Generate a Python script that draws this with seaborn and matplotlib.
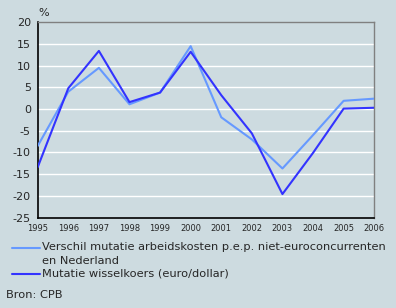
import matplotlib
matplotlib.use("Agg")
import matplotlib.pyplot as plt
import seaborn as sns
import pandas as pd
from matplotlib.lines import Line2D

years = [1995, 1996, 1997, 1998, 1999, 2000, 2001, 2002, 2003, 2004, 2005, 2006]
verschil = [-8.5, 4.0, 9.5, 1.1, 3.8, 14.5, -1.9, -7.0, -13.7, -6.0, 1.9, 2.4]
wisselkoers = [-13.4, 4.8, 13.4, 1.6, 3.8, 13.2, 3.2, -5.6, -19.6, -10.1, 0.1, 0.3]
label_verschil = "Verschil mutatie arbeidskosten p.e.p. niet-euroconcurrenten\nen Nederland"
label_wissel = "Mutatie wisselkoers (euro/dollar)"
yticks = [20, 15, 10, 5, 0, -5, -10, -15, -20, -25]

c_light = "#6699ff"
c_dark = "#3333ff"
bg = "#cddbe0"

sns.set_style("white")
plt.rcParams["font.family"] = ["DejaVu Sans"]

df = pd.DataFrame({
    "jaar": years * 2,
    "waarde": verschil + wisselkoers,
    "reeks": [label_verschil] * len(years) + [label_wissel] * len(years),
})

fig = plt.figure(figsize=(3.96, 3.08), dpi=100, facecolor=bg)
ax = fig.add_axes([0.0952, 0.2938, 0.945 - 0.0952, 0.9276 - 0.2938])
ax.set_facecolor(bg)

for y in yticks[1:-1]:
    ax.axhline(y, color="white", lw=1.0, zorder=0)

sns.lineplot(data=df, x="jaar", y="waarde", hue="reeks",
             palette={label_verschil: c_light, label_wissel: c_dark},
             hue_order=[label_verschil, label_wissel],
             lw=1.5, legend=False, ax=ax, zorder=3)

ax.set_xlim(1995, 2006)
ax.set_ylim(-25, 20)
ax.set_xticks(years)
ax.set_xticklabels([str(y) for y in years], fontsize=6)
ax.set_yticks(yticks)
ax.set_yticklabels([str(y) for y in yticks], fontsize=8)
ax.set_xlabel("")
ax.set_ylabel("")
ax.tick_params(axis="x", length=3, width=1, pad=2, color="black")
ax.tick_params(axis="y", length=3, width=1, pad=2, color="black")

for s in ["left", "bottom"]:
    ax.spines[s].set_color("black")
    ax.spines[s].set_linewidth(1.2)
for s in ["top", "right"]:
    ax.spines[s].set_color("#808080")
    ax.spines[s].set_linewidth(1.0)

fig.text(38 / 396, 1 - 13 / 308, "%", fontsize=8, ha="left", va="center")

# Legend
def fy(p):
    return 1 - p / 308

lfs = 8.2
fig.add_artist(Line2D([12 / 396, 40 / 396], [fy(247.5), fy(247.5)], color=c_light, lw=1.5))
fig.add_artist(Line2D([12 / 396, 40 / 396], [fy(273.5), fy(273.5)], color=c_dark, lw=1.5))
fig.text(42 / 396, fy(247.5), "Verschil mutatie arbeidskosten p.e.p. niet-euroconcurrenten",
         fontsize=lfs, ha="left", va="center")
fig.text(42 / 396, fy(261), "en Nederland", fontsize=lfs, ha="left", va="center")
fig.text(42 / 396, fy(273.5), label_wissel, fontsize=lfs, ha="left", va="center")
fig.text(6 / 396, fy(294.5), "Bron: CPB", fontsize=lfs, ha="left", va="center")

fig.savefig("out.png", dpi=100, facecolor=bg)
